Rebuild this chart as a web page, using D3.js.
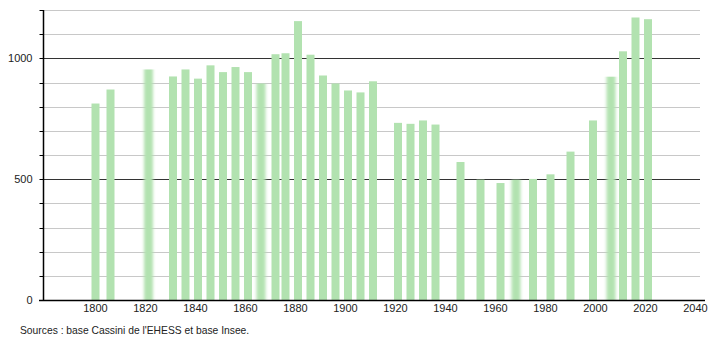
<!DOCTYPE html>
<html>
<head>
<meta charset="utf-8">
<script src="https://cdn.jsdelivr.net/npm/d3@7"></script>
<style>
body { margin: 0; background: #fff; }
text { font-family: "Liberation Sans", Arial, sans-serif; }
</style>
</head>
<body>
<svg id="chart" width="710" height="340"></svg>
<script>
const years = [1800, 1806, 1821, 1831, 1836, 1841, 1846, 1851, 1856, 1861, 1866, 1872, 1876, 1881, 1886, 1891, 1896, 1901, 1906, 1911, 1921, 1926, 1931, 1936, 1946, 1954, 1962, 1968, 1975, 1982, 1990, 1999, 2006, 2011, 2016, 2021];
const population = [813, 871, 954, 925, 954, 916, 971, 943, 964, 943, 896, 1017, 1021, 1154, 1015, 929, 896, 867, 859, 905, 733, 729, 743, 726, 571, 498, 484, 498, 501, 520, 614, 743, 924, 1029, 1169, 1162];
const xTicks = [1800, 1820, 1840, 1860, 1880, 1900, 1920, 1940, 1960, 1980, 2000, 2020, 2040];
const yTicks = [0, 500, 1000];
const yMinor = [0, 100, 200, 300, 400, 500, 600, 700, 800, 900, 1000, 1100, 1200];
const sourceText = "Sources : base Cassini de l'EHESS et base Insee.";
const softYears = [1821, 1866, 1968, 2006];

const svg = d3.select("#chart");
const x = d3.scaleLinear().domain([1779, 2042]).range([43, 700.5]);
const y = d3.scaleLinear().domain([0, 1200]).range([300, 10]);
const barW = 8;

const defs = svg.append("defs");
defs.append("filter").attr("id", "soft").attr("x", "-50%").attr("width", "200%")
  .append("feGaussianBlur").attr("stdDeviation", "1.6 0.3");

// gridlines
svg.append("g").selectAll("line").data(yMinor.filter(d => d > 0)).join("line")
  .attr("x1", 43).attr("x2", 700)
  .attr("y1", d => Math.round(y(d)) + 0.5).attr("y2", d => Math.round(y(d)) + 0.5)
  .attr("stroke", d => d % 500 === 0 ? "#333" : "#c8c8c8")
  .attr("stroke-width", 1);

// bars
const data = years.map((yr, i) => ({ yr, v: population[i] }));
svg.append("g").selectAll("rect").data(data).join("rect")
  .attr("x", d => x(d.yr) - barW / 2)
  .attr("width", d => softYears.includes(d.yr) ? barW + 1 : barW)
  .attr("y", d => y(d.v))
  .attr("height", d => y(0) - y(d.v))
  .attr("fill", "#b2e2b0")
  .attr("filter", d => softYears.includes(d.yr) ? "url(#soft)" : null);

// y axis
const yAxis = svg.append("g").attr("transform", "translate(43.5,0)");
yAxis.append("line").attr("x1", 0).attr("x2", 0).attr("y1", 10).attr("y2", 300)
  .attr("stroke", "#000").attr("stroke-width", 1.5);
yAxis.selectAll("line.t").data(yMinor).join("line").attr("class", "t")
  .attr("x1", -4).attr("x2", 0)
  .attr("y1", d => Math.round(y(d)) + 0.5).attr("y2", d => Math.round(y(d)) + 0.5)
  .attr("stroke", "#000");
yAxis.selectAll("text").data(yTicks).join("text")
  .attr("x", -11).attr("y", d => y(d)).attr("dy", "0.35em")
  .attr("text-anchor", "end").attr("font-size", 11).attr("fill", "#222")
  .text(d => d);

// x axis
const xAxis = svg.append("g");
xAxis.append("line").attr("x1", 39).attr("x2", 705).attr("y1", 300.5).attr("y2", 300.5)
  .attr("stroke", "#000").attr("stroke-width", 1.5);
xAxis.selectAll("text").data(xTicks).join("text")
  .attr("x", d => x(d)).attr("y", 308).attr("dy", "0.35em")
  .attr("text-anchor", "middle").attr("font-size", 11).attr("fill", "#222")
  .text(d => d);

svg.append("text").attr("x", 20).attr("y", 330).attr("dy", "0.35em")
  .attr("font-size", 10.3).attr("fill", "#222").text(sourceText);
</script>
</body>
</html>
